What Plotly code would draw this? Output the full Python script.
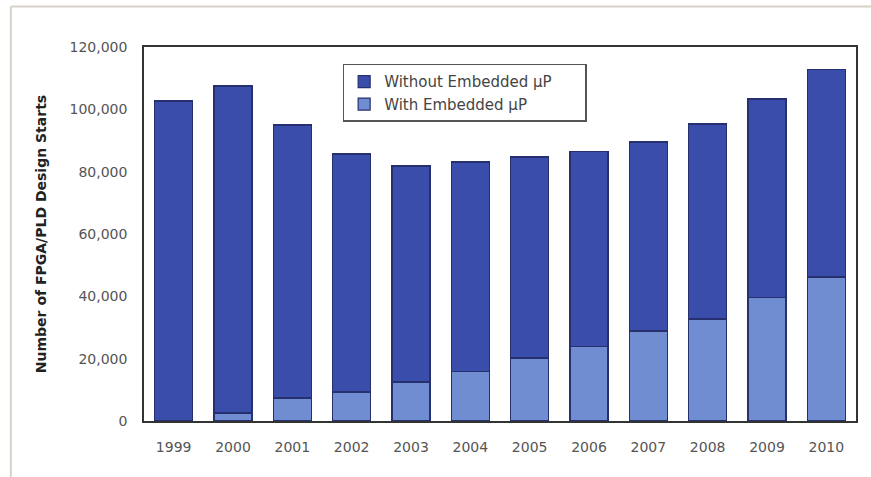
import plotly.graph_objects as go

years = ["1999", "2000", "2001", "2002", "2003", "2004", "2005", "2006", "2007", "2008", "2009", "2010"]
total = [102700, 107500, 95000, 85700, 81800, 83100, 84700, 86600, 89500, 95300, 103300, 112900]
with_up = [0, 2600, 7400, 9300, 12500, 16000, 20200, 24000, 28900, 32700, 39500, 46200]
without_up = [t - w for t, w in zip(total, with_up)]

NB = "\u00a0"

fig = go.Figure()
fig.add_trace(go.Bar(
    x=years, y=with_up, name="With Embedded µP" + NB * 9,
    marker=dict(color="#6F8DD0", line=dict(color="#26306E", width=1.2)),
))
fig.add_trace(go.Bar(
    x=years, y=without_up, name="Without Embedded µP" + NB * 6,
    marker=dict(color="#3A4DAB", line=dict(color="#26306E", width=1.2)),
))

tickfont = dict(family="DejaVu Sans, Arial, sans-serif", size=14, color="#555555")

fig.update_layout(
    barmode="stack",
    bargap=0.36,
    width=871, height=477,
    margin=dict(l=144, r=15, t=47, b=56),
    paper_bgcolor="white",
    plot_bgcolor="white",
    font=dict(family="DejaVu Sans, Arial, sans-serif", color="#555555", size=14),
    showlegend=True,
    legend=dict(
        x=0.279, y=0.955, xanchor="left", yanchor="top",
        traceorder="reversed",
        bordercolor="#555555", borderwidth=1.5,
        bgcolor="white",
        font=dict(family="DejaVu Sans, Arial, sans-serif", size=15, color="#444444"),
        itemwidth=30,
        tracegroupgap=0,
    ),
    xaxis=dict(
        showline=True, linecolor="#333333", linewidth=1.5, mirror=True,
        ticks="", tickfont=tickfont, ticklabelstandoff=12,
        showgrid=False,
    ),
    yaxis=dict(
        range=[0, 120000], dtick=20000, tickformat=",d",
        showline=True, linecolor="#333333", linewidth=1.5, mirror=True,
        ticks="", showgrid=False, zeroline=False,
        tickfont=tickfont,
        ticklabelstandoff=12,
        title=dict(text="<b>Number of FPGA/PLD Design Starts</b>",
                   font=dict(family="DejaVu Sans, Arial, sans-serif", size=14, color="#222222"),
                   standoff=20),
    ),
    shapes=[
        dict(type="line", xref="paper", yref="paper", x0=-0.187, x1=-0.187, y0=1.108, y1=-0.15,
             line=dict(color="#D8D2C8", width=2)),
        dict(type="line", xref="paper", yref="paper", x0=-0.187, x1=1.03, y0=1.108, y1=1.108,
             line=dict(color="#D8D2C8", width=2)),
    ],
)

fig.write_html("out.html")
